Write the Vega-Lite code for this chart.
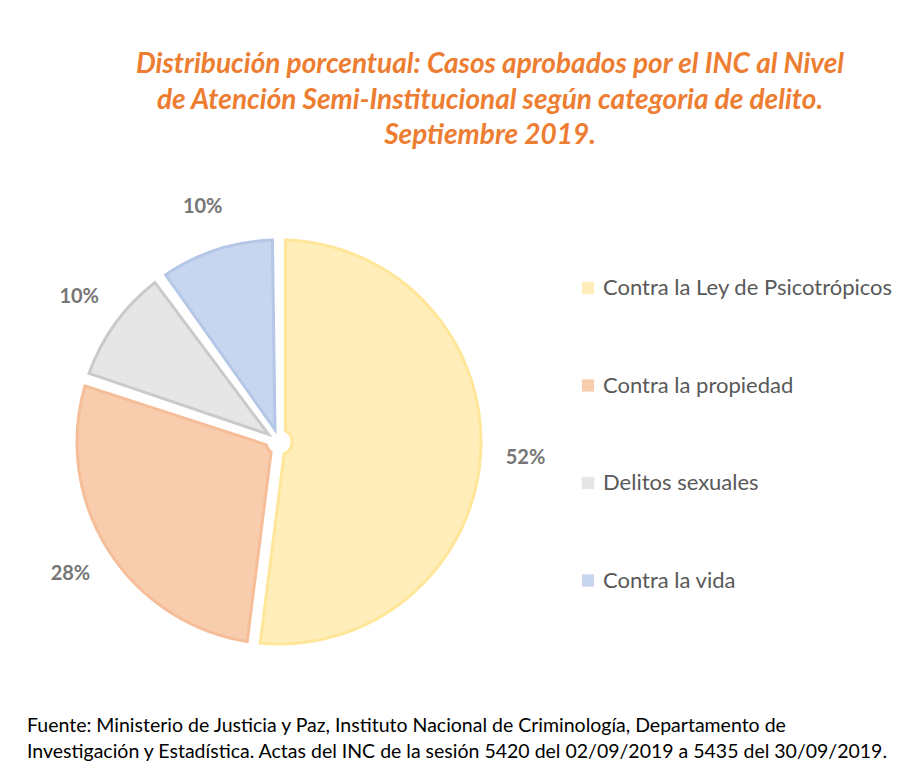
{
  "$schema": "https://vega.github.io/schema/vega-lite/v6.json",
  "background": "white",
  "padding": {"left": 27, "top": 51, "right": 4, "bottom": 4},
  "title": {
    "text": ["Fuente: Ministerio de Justicia y Paz, Instituto Nacional de Criminología, Departamento de", "Investigación y Estadística. Actas del INC de la sesión 5420 del 02/09/2019 a 5435 del 30/09/2019."],
    "orient": "bottom",
    "anchor": "start",
    "frame": "group",
    "offset": 65,
    "dx": -42,
    "font": "Lato",
    "fontSize": 19.5,
    "fontWeight": "normal",
    "color": "#000000",
    "lineHeight": 26
  },
  "data": {
    "values": [
      {"categoria": "Contra la Ley de Psicotrópicos", "pct": 52, "orden": 1},
      {"categoria": "Contra la propiedad", "pct": 28, "orden": 2},
      {"categoria": "Delitos sexuales", "pct": 10, "orden": 3},
      {"categoria": "Contra la vida", "pct": 10, "orden": 4}
    ]
  },
  "vconcat": [
    {
      "width": 420,
      "height": 420,
      "title": {
        "text": ["Distribución porcentual: Casos aprobados por el INC al Nivel", "de Atención Semi-Institucional según categoria de delito.", "Septiembre 2019."],
        "orient": "top",
        "anchor": "middle",
        "frame": "group",
        "offset": 47,
        "dx": 211,
        "font": "Lato",
        "fontSize": 28,
        "fontStyle": "italic",
        "fontWeight": "bold",
        "color": "#ED7D31",
        "lineHeight": 35.5
      },
      "transform": [{"calculate": "datum.pct + '%'", "as": "etiqueta"}],
      "layer": [
        {
          "mark": {"type": "arc", "outerRadius": 202, "innerRadius": 13, "padAngle": 0.065, "strokeWidth": 3},
          "encoding": {
            "theta": {"field": "pct", "type": "quantitative", "stack": true},
            "order": {"field": "orden", "type": "quantitative", "sort": "ascending"},
            "color": {
              "field": "categoria",
              "type": "nominal",
              "scale": {
                "domain": ["Contra la Ley de Psicotrópicos", "Contra la propiedad", "Delitos sexuales", "Contra la vida"],
                "range": ["#FFEDBA", "#F8CDAE", "#E6E6E6", "#C8D5EE"]
              },
              "legend": {
                "title": null,
                "orient": "none",
                "legendX": 508,
                "legendY": 45,
                "symbolType": "square",
                "symbolSize": 150,
                "symbolStrokeWidth": 0,
                "labelFont": "Lato",
                "labelFontSize": 22,
                "labelColor": "#595959",
                "labelOffset": 4,
                "labelLimit": 400,
                "rowPadding": 75.5
              }
            },
            "stroke": {
              "field": "categoria",
              "type": "nominal",
              "scale": {
                "domain": ["Contra la Ley de Psicotrópicos", "Contra la propiedad", "Delitos sexuales", "Contra la vida"],
                "range": ["#FFE699", "#F6BE98", "#CACACA", "#B4C7E7"]
              },
              "legend": null
            }
          }
        },
        {
          "mark": {"type": "text", "radius": 247, "font": "Lato", "fontWeight": "bold", "fontSize": 20, "fill": "#767676"},
          "encoding": {
            "theta": {"field": "pct", "type": "quantitative", "stack": true},
            "order": {"field": "orden", "type": "quantitative", "sort": "ascending"},
            "text": {"field": "etiqueta", "type": "nominal"}
          }
        }
      ]
    }
  ],
  "config": {"view": {"stroke": null}, "concat": {"spacing": 0}}
}
